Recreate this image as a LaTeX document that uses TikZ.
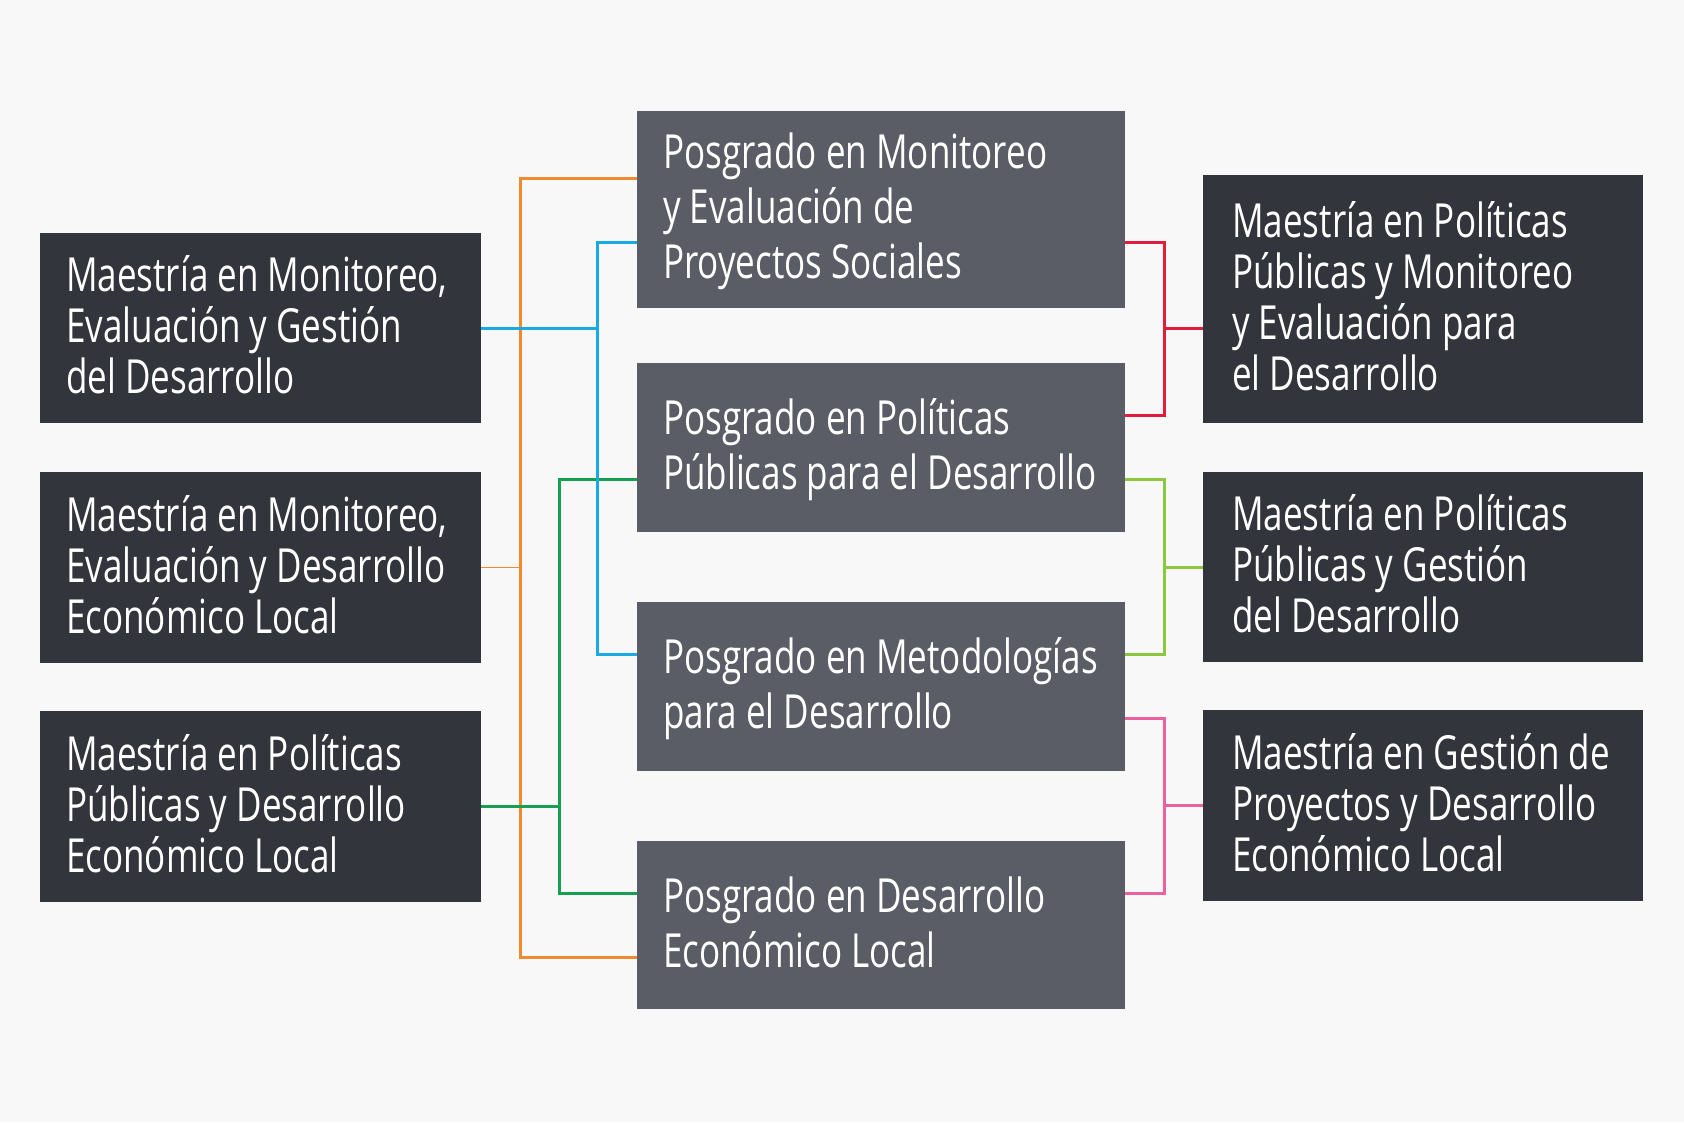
\documentclass[tikz,border=0pt]{standalone}
\usepackage{fontspec}
\newfontfamily\boxfont[FakeStretch=0.745]{Open Sans}
\definecolor{bgc}{RGB}{248,248,248}
\definecolor{boxdark}{RGB}{51,53,60}
\definecolor{boxmid}{RGB}{91,93,102}
\definecolor{corangec}{RGB}{240,138,44}
\definecolor{cbluec}{RGB}{26,170,226}
\definecolor{cgreenc}{RGB}{20,160,80}
\definecolor{credc}{RGB}{226,28,60}
\definecolor{climec}{RGB}{141,198,63}
\definecolor{cpinkc}{RGB}{236,96,160}
\tikzset{
  boxbase/.style={anchor=north west, inner sep=0pt, draw=none},
  sidebox/.style={boxbase, fill=boxdark, minimum width=441pt},
  rightbox/.style={boxbase, fill=boxdark, minimum width=440pt},
  midbox/.style={boxbase, fill=boxmid, minimum width=488pt},
  sidetxt/.style={anchor=west, align=left, inner sep=0pt, text=white,
    font={\boxfont\fontsize{47pt}{51pt}\selectfont}},
  midtxt/.style={sidetxt, font={\boxfont\fontsize{47pt}{55pt}\selectfont}},
  link/.style={line width=3pt},
  corange/.style={link, draw=corangec},
  cblue/.style={link, draw=cbluec},
  cgreen/.style={link, draw=cgreenc},
  cred/.style={link, draw=credc},
  clime/.style={link, draw=climec},
  cpink/.style={link, draw=cpinkc}
}
\begin{document}
\begin{tikzpicture}[x=1pt,y=-1pt]
\fill[bgc] (0,0) rectangle (1684,1122);
\useasboundingbox (0,0) rectangle (1684,1122);

% left column
\node[sidebox, minimum height=190pt] (L1) at (40,233) {};
\node[sidebox, minimum height=191pt] (L2) at (40,472) {};
\node[sidebox, minimum height=191pt] (L3) at (40,711) {};
% centre column
\node[midbox, minimum height=197pt] (C1) at (637,111) {};
\node[midbox, minimum height=169pt] (C2) at (637,363) {};
\node[midbox, minimum height=169pt] (C3) at (637,602) {};
\node[midbox, minimum height=168pt] (C4) at (637,841) {};
% right column
\node[rightbox, minimum height=248pt] (R1) at (1203,175) {};
\node[rightbox, minimum height=190pt] (R2) at (1203,472) {};
\node[rightbox, minimum height=191pt] (R3) at (1203,710) {};

% texts
\node[sidetxt, xshift=26pt, yshift=3pt] (L1t) at (L1.west) {Maestría en Monitoreo,\\Evaluación y Gestión\\del Desarrollo};
\node[sidetxt, xshift=26pt, yshift=3pt] (L2t) at (L2.west) {Maestría en Monitoreo,\\Evaluación y Desarrollo\\Económico Local};
\node[sidetxt, xshift=26pt, yshift=3pt] (L3t) at (L3.west) {Maestría en Políticas\\Públicas y Desarrollo\\Económico Local};
\node[midtxt, xshift=26pt, yshift=-2pt] (C1t) at (C1.west) {Posgrado en Monitoreo\\y Evaluación de\\Proyectos Sociales};
\node[midtxt, xshift=26pt, yshift=-2pt] (C2t) at (C2.west) {Posgrado en Políticas\\Públicas para el Desarrollo};
\node[midtxt, xshift=26pt, yshift=-2pt] (C3t) at (C3.west) {Posgrado en Metodologías\\para el Desarrollo};
\node[midtxt, xshift=26pt, yshift=3pt] (C4t) at (C4.west) {Posgrado en Desarrollo\\Económico Local};
\node[sidetxt, xshift=29pt, yshift=3pt] (R1t) at (R1.west) {Maestría en Políticas\\Públicas y Monitoreo\\y Evaluación para\\el Desarrollo};
\node[sidetxt, xshift=29pt, yshift=3pt] (R2t) at (R2.west) {Maestría en Políticas\\Públicas y Gestión\\del Desarrollo};
\node[sidetxt, xshift=29pt, yshift=3pt] (R3t) at (R3.west) {Maestría en Gestión de\\Proyectos y Desarrollo\\Económico Local};

% bus positions
\coordinate (ob) at (520,0);
\coordinate (gb) at (559,0);
\coordinate (bb) at (597,0);
\coordinate (rb) at (1164,0);
\coordinate (yo1) at (0,178);
\coordinate (yo2) at (0,957);
\coordinate (yb1) at (0,242);
\coordinate (yb2) at (0,654);
\coordinate (yg1) at (0,479);
\coordinate (yg2) at (0,893);
\coordinate (yr1) at (0,328);
\coordinate (yr2) at (0,415);
\coordinate (yp1) at (0,718);

% left connectors
\draw[corange] (C1.west |- yo1) -| (ob |- yo2) -- (C4.west |- yo2);
\draw[corange, line width=1.5pt] (L2.east) -- (L2.east -| ob);
\draw[cgreen] (C2.west |- yg1) -| (gb |- yg2) -- (C4.west |- yg2);
\draw[cgreen] (L3.east) -- (L3.east -| gb);
\draw[cblue] (C1.west |- yb1) -| (bb |- yb2) -- (C3.west |- yb2);
\draw[cblue] (L1.east) -- (L1.east -| bb);
% right connectors
\draw[cred] (C1.east |- yb1) -| (rb |- yr2) -- (C2.east |- yr2);
\draw[cred] (R1.west |- yr1) -- (rb |- yr1);
\draw[clime] (C2.east |- yg1) -| (rb |- yb2) -- (C3.east |- yb2);
\draw[clime] (R2.west) -- (R2.west -| rb);
\draw[cpink] (C3.east |- yp1) -| (rb |- yg2) -- (C4.east |- yg2);
\draw[cpink] (R3.west) -- (R3.west -| rb);
\end{tikzpicture}
\end{document}
